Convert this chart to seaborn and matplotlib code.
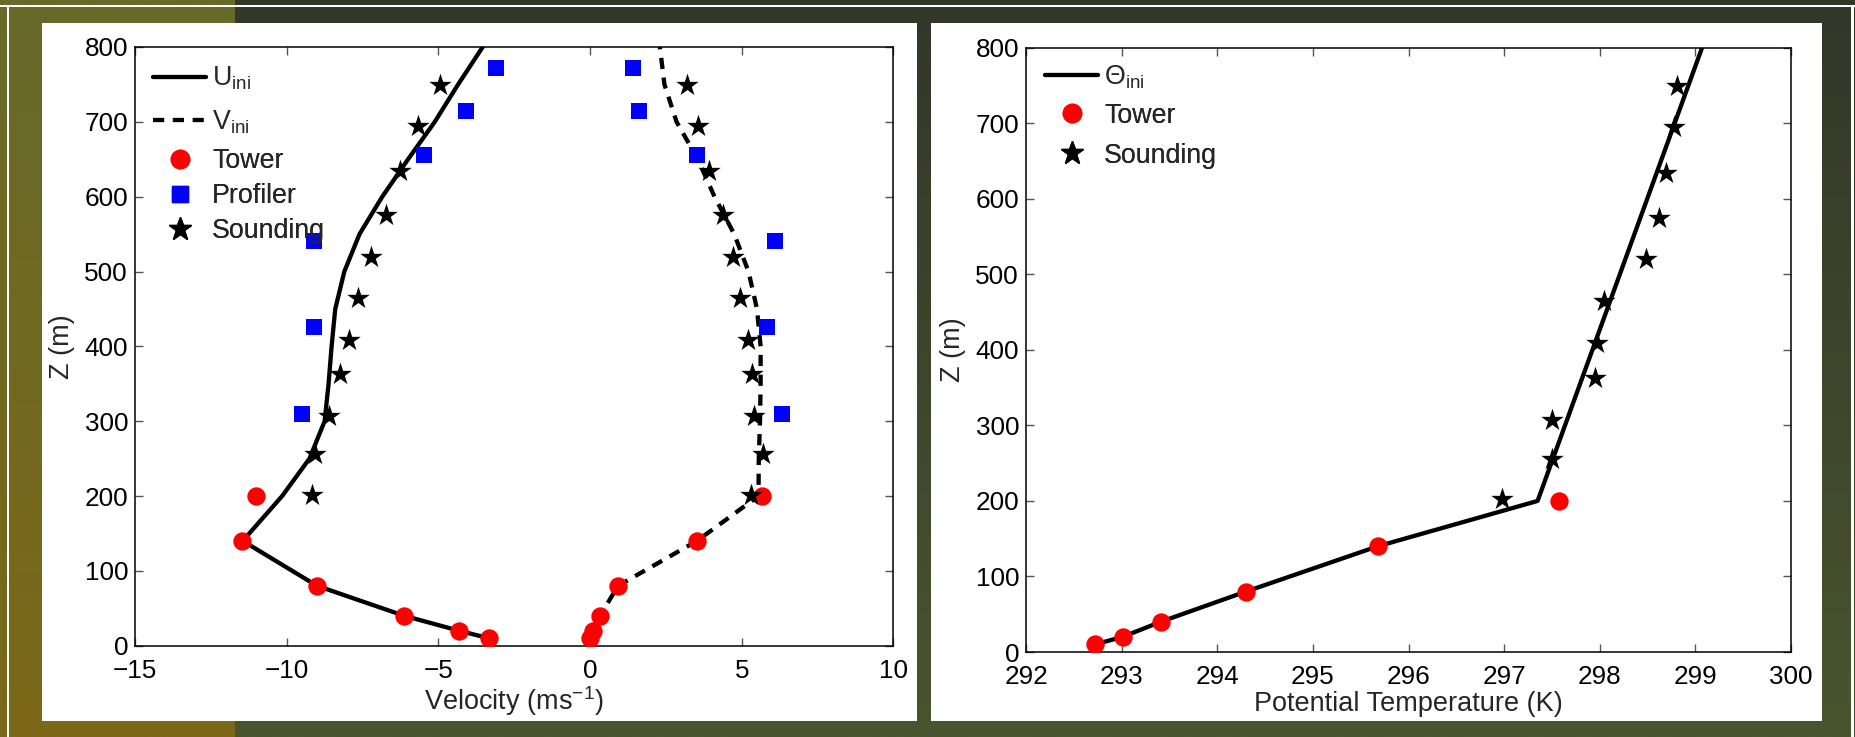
import numpy as np
import pandas as pd
import matplotlib
matplotlib.use("Agg")
import matplotlib.pyplot as plt
from matplotlib.lines import Line2D
from matplotlib.patches import Rectangle
import seaborn as sns

# ---------------- data ----------------
# Tower observations
tower_z = [10, 20, 40, 80, 140, 200]
tower_u = [-3.34, -4.32, -6.13, -9.0, -11.48, -11.0]
tower_v = [0.0, 0.08, 0.33, 0.92, 3.52, 5.68]
tower_theta = [292.72, 293.01, 293.41, 294.30, 295.68, 297.57]

# Wind profiler
profiler_z = [309, 426, 541, 656, 715, 772]
profiler_u = [-9.49, -9.10, -9.10, -5.49, -4.08, -3.09]
profiler_v = [6.33, 5.82, 6.11, 3.52, 1.62, 1.43]

# Radio sounding
sounding_z = [202, 256, 307, 363, 409, 465, 520, 575, 634, 695, 749]
sounding_u = [-9.18, -9.06, -8.59, -8.24, -7.95, -7.66, -7.23, -6.72, -6.25, -5.66, -4.96]
sounding_v = [5.31, 5.70, 5.39, 5.35, 5.20, 4.94, 4.71, 4.38, 3.93, 3.57, 3.20]
sounding_theta = [296.98, 297.50, 297.50, 297.95, 297.97, 298.04, 298.48, 298.62, 298.69, 298.78, 298.81]

# Initial profiles
ini_z = [10, 20, 40, 80, 140, 200, 250, 300, 350, 400, 450, 500, 550, 600, 650, 700, 750, 800]
u_ini = [-3.34, -4.32, -6.13, -9.0, -11.45, -10.15, -9.25, -8.75, -8.62, -8.52, -8.4, -8.1,
         -7.6, -6.85, -6.0, -5.12, -4.35, -3.54]
v_ini = [0.0, 0.08, 0.33, 0.92, 3.52, 5.55, 5.56, 5.6, 5.62, 5.62, 5.5, 5.22,
         4.75, 4.1, 3.55, 2.85, 2.45, 2.3]
theta_ini_z = [10, 20, 40, 80, 140, 200, 800]
theta_ini = [292.72, 293.01, 293.41, 294.30, 295.68, 297.35, 299.07]

vel_ticks = [-15, -10, -5, 0, 5, 10]
theta_ticks = [292, 293, 294, 295, 296, 297, 298, 299, 300]
z_ticks = [0, 100, 200, 300, 400, 500, 600, 700, 800]

# ---------------- style ----------------
sns.set_theme(style="white")
plt.rcParams["font.family"] = ["Liberation Sans", "DejaVu Sans"]
plt.rcParams["mathtext.fontset"] = "custom"
plt.rcParams["mathtext.rm"] = "Liberation Sans"
plt.rcParams["mathtext.it"] = "Liberation Sans:italic"
plt.rcParams["mathtext.default"] = "regular"

W, H = 1856, 737
fig = plt.figure(figsize=(W / 100, H / 100), dpi=100)

# backdrop: two gradient blocks, white frame lines and white panels
bg = fig.add_axes([0, 0, 1, 1], zorder=-10)
bg.axis("off")
t = np.linspace(0, 1, 256)[:, None, None]
left_grad = (np.array([103, 106, 42]) * (1 - t) + np.array([123, 104, 24]) * t) / 255
right_grad = (np.array([50, 55, 41]) * (1 - t) + np.array([73, 85, 47]) * t) / 255
bg.imshow(left_grad, extent=(0, 235, H, 0), aspect="auto")
bg.imshow(right_grad, extent=(235, W, H, 0), aspect="auto")
bg.set_xlim(0, W)
bg.set_ylim(H, 0)
for rect in [(0, 4.5, W, 2.3), (7, 4.5, 2.3, H), (1851.3, 4.5, 2.3, H),
             (42, 23, 875, 698), (931, 23, 891, 698)]:
    bg.add_patch(Rectangle(rect[:2], rect[2], rect[3], facecolor="white", edgecolor="none"))

AX1_H, AX2_H = 645.7 - 47, 652 - 47.7
ax1 = fig.add_axes([135 / W, 1 - 645.7 / H, (893.5 - 135) / W, AX1_H / H])
ax2 = fig.add_axes([1026 / W, 1 - 652 / H, (1791 - 1026) / W, AX2_H / H])

LW = 3.1
DASH = (0, (2.6, 2.0))
S_CIRCLE, S_SQUARE, S_STAR = 175, 130, 290
FS_TICK, FS_LABEL, FS_LEG = 18.8, 19.5, 19.3

def style_axes(ax, xticks, xlim):
    ax.set_xlim(*xlim)
    ax.set_ylim(0, 800)
    ax.set_xticks(xticks)
    ax.set_yticks(z_ticks)
    ax.tick_params(direction="in", length=6, width=1, color="#555555",
                   top=True, right=True, bottom=True, left=True,
                   labelsize=FS_TICK, labelcolor="black")
    ax.tick_params(axis="x", pad=9.5)
    ax.tick_params(axis="y", pad=5)
    for sp in ax.spines.values():
        sp.set_visible(True)
        sp.set_color("black")
        sp.set_linewidth(1.1)
    ax.set_facecolor("white")
    ax.set_ylabel("Z (m)", fontsize=FS_LABEL, labelpad=7)

def add_legend(ax, handles, labels, top_px, left_px, width_px, height_px, spacing):
    leg = ax.legend(handles, labels, loc="upper left",
                    bbox_to_anchor=(left_px / width_px, 1 - top_px / height_px),
                    frameon=False, fontsize=FS_LEG, handlelength=1.98,
                    handletextpad=0.22, labelspacing=spacing,
                    borderaxespad=0, borderpad=0)
    ax.add_artist(leg)
    return leg

ms_c, ms_s, ms_st = np.sqrt(S_CIRCLE), np.sqrt(S_SQUARE), np.sqrt(S_STAR)
solid_h = Line2D([], [], color="black", lw=LW)
dash_h = Line2D([], [], color="black", lw=LW, linestyle=DASH)
tower_h = Line2D([], [], ls="", marker="o", color="red", markersize=ms_c)
prof_h = Line2D([], [], ls="", marker="s", color="blue", markersize=ms_s)
sound_h = Line2D([], [], ls="", marker="*", color="black", markersize=ms_st)

# ---------------- velocity panel ----------------
sns.lineplot(x=u_ini, y=ini_z, sort=False, estimator=None, color="black",
             lw=LW, ax=ax1)
sns.lineplot(x=v_ini, y=ini_z, sort=False, estimator=None, color="black",
             lw=LW, ax=ax1, linestyle=DASH)
sns.scatterplot(x=tower_u + tower_v, y=tower_z + tower_z, marker="o", s=S_CIRCLE,
                color="red", linewidth=0, ax=ax1, zorder=3)
sns.scatterplot(x=profiler_u + profiler_v, y=profiler_z + profiler_z, marker="s",
                s=S_SQUARE, color="blue", linewidth=0, ax=ax1, zorder=3)
sns.scatterplot(x=sounding_u + sounding_v, y=sounding_z + sounding_z, marker="*",
                s=S_STAR, color="black", linewidth=0, ax=ax1, zorder=3)
style_axes(ax1, vel_ticks, (-15, 10))
ax1.set_xlabel("Velocity (ms$^{-1}$)", fontsize=FS_LABEL, labelpad=1)

add_legend(ax1, [solid_h, dash_h], ["U$_{\\mathrm{ini}}$", "V$_{\\mathrm{ini}}$"],
           18, 18, 758.5, AX1_H, 0.58)
add_legend(ax1, [tower_h, prof_h, sound_h], ["Tower", "Profiler", "Sounding"],
           101, 18, 758.5, AX1_H, 0.34)

# ---------------- potential temperature panel ----------------
sns.lineplot(x=theta_ini, y=theta_ini_z, sort=False, estimator=None, color="black",
             lw=LW, ax=ax2)
sns.scatterplot(x=tower_theta, y=tower_z, marker="o", s=S_CIRCLE, color="red",
                linewidth=0, ax=ax2, zorder=3)
sns.scatterplot(x=sounding_theta, y=sounding_z, marker="*", s=S_STAR, color="black",
                linewidth=0, ax=ax2, zorder=3)
style_axes(ax2, theta_ticks, (292, 300))
ax2.set_xlabel("Potential Temperature (K)", fontsize=FS_LABEL, labelpad=1)

add_legend(ax2, [solid_h], ["\u0398$_{\\mathrm{ini}}$"], 16, 19, 765, AX2_H, 0.3)
add_legend(ax2, [tower_h, sound_h], ["Tower", "Sounding"], 55, 19, 765, AX2_H, 0.52)

fig.savefig("out.png", dpi=100)
